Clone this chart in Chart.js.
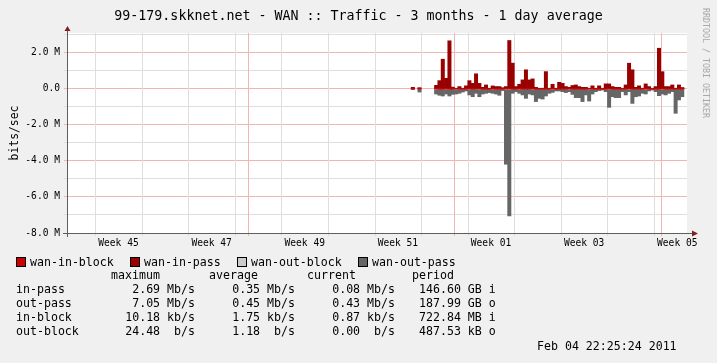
<!DOCTYPE html>
<html><head><meta charset="utf-8">
<script src="https://cdn.jsdelivr.net/npm/chart.js@4.4.0/dist/chart.umd.min.js"></script>
<style>
html,body{margin:0;padding:0;background:#f0f0f0;}
#wrap{position:relative;width:717px;height:363px;overflow:hidden;background:#f0f0f0;}
canvas{position:absolute;left:0;top:0;}
.t{position:absolute;font-family:'DejaVu Sans Mono',monospace;font-size:11.6px;line-height:14px;color:#000;white-space:pre;}
.r{text-align:right;width:120px;}
.sq{position:absolute;width:8px;height:8px;border:1px solid #000;}
#rrd{position:absolute;left:701px;top:8px;writing-mode:vertical-rl;font-family:'DejaVu Sans Mono',monospace;font-size:8.3px;line-height:10px;color:#a8a8a8;white-space:pre;}
</style></head><body>
<div id="wrap"><canvas id="c" width="717" height="363"></canvas><div id="rrd">RRDTOOL / TOBI OETIKER</div></div>
<script>
// ---------- DATA ----------
const titleText = '99-179.skknet.net - WAN :: Traffic - 3 months - 1 day average';
const yAxisTitle = 'bits/sec';
// x axis: days since Nov 1 2010 00:00
const xStartDay = 2.76, xEndDay = 95.96;
const weekGridDays = [7, 14, 21, 28, 35, 42, 49, 56, 63, 70, 77, 84, 91];
const monthGridDays = [30, 61, 92];
const weekLabelDays = [10.5, 24.5, 38.5, 52.5, 66.5, 80.5, 94.5];
const weekLabels = ['Week 45', 'Week 47', 'Week 49', 'Week 51', 'Week 01', 'Week 03', 'Week 05'];
// y axis
const yMin = -8e6, yMax = 3.11e6;
const yMajorValues = [-8e6, -6e6, -4e6, -2e6, 0, 2e6];
const yMajorLabels = ['-8.0 M', '-6.0 M', '-4.0 M', '-2.0 M', '0.0', '2.0 M'];
// half-day slots starting Dec 24 12:00 (day 54.5)
const firstSlotDay = 54.5, slotDays = 0.5;
// wan-in-pass, Mb/s
const inPassMbps = [
  0.09, null, 0.07, null, null, null, null, 0.20, 0.46, 1.65,
  0.59, 2.67, 0.10, 0.04, 0.13, 0.04, 0.17, 0.46, 0.31, 0.83,
  0.31, 0.09, 0.22, 0.04, 0.17, 0.13, 0.13, 0.07, 0.13, 2.69,
  1.43, 0.13, 0.26, 0.50, 1.06, 0.50, 0.56, 0.09, 0.04, 0.04,
  0.96, 0.04, 0.26, 0.04, 0.37, 0.31, 0.13, 0.09, 0.19, 0.22,
  0.13, 0.09, 0.09, 0.04, 0.17, 0.04, 0.17, 0.04, 0.28, 0.28,
  0.13, 0.09, 0.09, 0.04, 0.22, 1.43, 1.06, 0.09, 0.17, 0.04,
  0.28, 0.13, 0.04, 0.13, 2.26, 0.96, 0.13, 0.13, 0.22, 0.04,
  0.22, 0.08
];
// wan-out-pass, Mb/s (drawn below zero)
const outPassMbps = [
  0.01, null, 0.17, null, null, null, null, 0.28, 0.35, 0.39,
  0.28, 0.39, 0.30, 0.28, 0.24, 0.17, 0.11, 0.33, 0.43, 0.24,
  0.43, 0.28, 0.24, 0.20, 0.24, 0.28, 0.35, 0.09, 4.18, 7.05,
  0.24, 0.15, 0.24, 0.33, 0.52, 0.28, 0.33, 0.70, 0.52, 0.56,
  0.39, 0.24, 0.19, 0.11, 0.11, 0.15, 0.20, 0.15, 0.30, 0.48,
  0.48, 0.70, 0.33, 0.67, 0.28, 0.15, 0.09, 0.06, 0.15, 1.02,
  0.43, 0.48, 0.48, 0.15, 0.33, 0.15, 0.80, 0.43, 0.39, 0.24,
  0.28, 0.11, 0.06, 0.15, 0.37, 0.28, 0.33, 0.24, 0.15, 1.35,
  0.61, 0.43
];
// wan-in-block, kb/s (too small to see at this scale)
const inBlockKbps = [
  1.2, null, 0.9, null, null, null, null, 2.1, 1.8, 2.4,
  1.5, 3.0, 1.1, 0.8, 1.4, 1.0, 1.6, 2.2, 1.9, 10.18,
  1.7, 1.2, 1.5, 0.9, 1.3, 1.8, 2.0, 1.1, 3.5, 4.2,
  2.6, 1.4, 1.6, 1.9, 2.3, 1.8, 1.7, 1.2, 1.0, 1.1,
  2.4, 1.0, 1.5, 0.9, 1.6, 1.8, 1.3, 1.2, 1.4, 1.6,
  1.3, 1.1, 1.2, 0.9, 1.5, 1.0, 1.4, 0.9, 1.7, 1.9,
  1.3, 1.2, 1.1, 0.9, 1.6, 2.8, 2.5, 1.2, 1.4, 1.0,
  1.7, 1.3, 0.9, 1.2, 3.1, 2.2, 1.4, 1.3, 1.5, 1.1,
  1.4, 0.87
];
// wan-out-block, b/s (too small to see at this scale)
const outBlockBps = [
  0, null, 0, null, null, null, null, 2.4, 0, 0,
  1.2, 0, 0, 3.6, 0, 0, 0, 1.8, 0, 0,
  24.48, 0, 0, 0, 2.2, 0, 0, 0, 4.8, 6.1,
  0, 0, 1.5, 0, 0, 0, 3.0, 0, 0, 0,
  0, 0, 1.9, 0, 0, 0, 0, 2.6, 0, 0,
  0, 0, 0, 1.4, 0, 0, 0, 0, 0, 3.3,
  0, 0, 0, 0, 0, 1.7, 0, 0, 0, 0,
  2.1, 0, 0, 0, 0, 1.6, 0, 0, 0, 0,
  0, 0
];
const legendNames = ['wan-in-block', 'wan-in-pass', 'wan-out-block', 'wan-out-pass'];
const legendColors = ['#cc0000', '#990000', '#cccccc', '#666666'];
const statHeaders = ['maximum', 'average', 'current', 'period'];
const statNames = ['in-pass', 'out-pass', 'in-block', 'out-block'];
const statMax = ['2.69 Mb/s', '7.05 Mb/s', '10.18 kb/s', '24.48  b/s'];
const statAvg = ['0.35 Mb/s', '0.45 Mb/s', '1.75 kb/s', '1.18  b/s'];
const statCur = ['0.08 Mb/s', '0.43 Mb/s', '0.87 kb/s', '0.00  b/s'];
const statPeriod = ['146.60 GB i', '187.99 GB o', '722.84 MB i', '487.53 kB o'];
const stampText = 'Feb 04 22:25:24 2011';

// ---------- STYLE ----------
const MONO = "'DejaVu Sans Mono', monospace";
const MINOR = '#dedede', MAJOR = '#efb6b6';
const AXIS = '#5e5e5e', ARROW = '#801f1f';

function pts(arr, sign, mult) {
  const out = [];
  arr.forEach((v, k) => { if (v !== null) out.push({ x: firstSlotDay + slotDays * (k + 0.5), y: sign * v * mult }); });
  return out;
}
function bar(label, data, color) {
  return { label, data, backgroundColor: color, borderWidth: 0, barPercentage: 1, categoryPercentage: 1 };
}

const bgPlugin = {
  id: 'bg',
  beforeDraw(chart) {
    const { ctx, chartArea: a } = chart;
    ctx.save();
    ctx.fillStyle = '#f0f0f0';
    ctx.fillRect(0, 0, chart.width, chart.height);
    ctx.fillStyle = '#ffffff';
    ctx.fillRect(a.left, a.top, a.right - a.left, a.bottom - a.top);
    ctx.restore();
  }
};
// vertical time grid, positioned through the x scale
const xGridPlugin = {
  id: 'xgrid',
  beforeDatasetsDraw(chart) {
    const { ctx, chartArea: a } = chart;
    const sx = chart.scales.x;
    ctx.save();
    ctx.lineWidth = 1;
    const line = (d, col) => {
      const px = Math.round(sx.getPixelForValue(d)) + 0.5;
      ctx.strokeStyle = col;
      ctx.beginPath(); ctx.moveTo(px, a.top); ctx.lineTo(px, a.bottom + 3); ctx.stroke();
    };
    weekGridDays.forEach(d => line(d, MINOR));
    monthGridDays.forEach(d => line(d, MAJOR));
    ctx.restore();
  }
};
const axisPlugin = {
  id: 'axes',
  afterDraw(chart) {
    const { ctx, chartArea: a } = chart;
    ctx.save();
    ctx.strokeStyle = AXIS; ctx.lineWidth = 1;
    ctx.beginPath();
    ctx.moveTo(a.left - 4, a.bottom + 0.5); ctx.lineTo(a.right + 6, a.bottom + 0.5);
    ctx.moveTo(a.left + 0.5, a.bottom + 4); ctx.lineTo(a.left + 0.5, a.top - 2);
    ctx.stroke();
    ctx.fillStyle = ARROW;
    ctx.beginPath();
    ctx.moveTo(a.right + 11, a.bottom + 0.5); ctx.lineTo(a.right + 5, a.bottom - 2.5); ctx.lineTo(a.right + 5, a.bottom + 3.5);
    ctx.closePath(); ctx.fill();
    ctx.beginPath();
    ctx.moveTo(a.left + 0.5, a.top - 7); ctx.lineTo(a.left - 2.5, a.top - 2); ctx.lineTo(a.left + 3.5, a.top - 2);
    ctx.closePath(); ctx.fill();
    ctx.restore();
  }
};

new Chart(document.getElementById('c'), {
  type: 'bar',
  data: {
    datasets: [
      bar('wan-in-block', pts(inBlockKbps, 1, 1e3), legendColors[0]),
      bar('wan-in-pass', pts(inPassMbps, 1, 1e6), legendColors[1]),
      bar('wan-out-block', pts(outBlockBps, -1, 1), legendColors[2]),
      bar('wan-out-pass', pts(outPassMbps, -1, 1e6), legendColors[3])
    ]
  },
  options: {
    responsive: false, animation: false, devicePixelRatio: 1,
    layout: { padding: { left: 0, right: 0, top: 0, bottom: 110 } },
    plugins: {
      legend: { display: false },
      tooltip: { enabled: false },
      title: {
        display: true, text: titleText, color: '#000',
        font: { family: MONO, size: 13.3, weight: 'normal' },
        padding: { top: 9, bottom: 8.04 }
      }
    },
    scales: {
      x: {
        type: 'linear', min: xStartDay, max: xEndDay, stacked: true, offset: false,
        afterBuildTicks(s) { s.ticks = weekLabelDays.map(v => ({ value: v })); },
        afterFit(s) { s.height = 20; },
        border: { display: false },
        grid: { display: true, drawOnChartArea: false, tickLength: 3, color: 'rgba(0,0,0,0)' },
        ticks: {
          autoSkip: false, maxRotation: 0, minRotation: 0, padding: 2, color: '#000',
          font: { family: MONO, size: 9.6 },
          callback(v) { const i = weekLabelDays.indexOf(v); return i >= 0 ? weekLabels[i] : ''; }
        }
      },
      y: {
        min: yMin, max: yMax, stacked: true,
        afterBuildTicks(s) {
          const t = [];
          for (let v = yMin; v <= yMax; v += 5e5) t.push({ value: v });
          s.ticks = t;
        },
        afterFit(s) { s.width = 67; },
        border: { display: false },
        grid: {
          tickLength: 3,
          color(c) { const v = c.tick ? c.tick.value : null; return yMajorValues.includes(v) ? MAJOR : MINOR; }
        },
        ticks: {
          padding: 4, color: '#000', font: { family: MONO, size: 9.6 },
          callback(v) { const i = yMajorValues.indexOf(v); return i >= 0 ? yMajorLabels[i] : ''; }
        },
        title: {
          display: true, text: yAxisTitle, color: '#000',
          font: { family: MONO, size: 11.4 }, padding: { top: 8, bottom: 0 }
        }
      },
      yRight: {
        type: 'linear', position: 'right', min: yMin, max: yMax,
        afterFit(s) { s.width = 30; },
        grid: { display: false }, border: { display: false }, ticks: { display: false }
      }
    }
  },
  plugins: [bgPlugin, xGridPlugin, axisPlugin]
});

// ---------- legend + statistics (text) ----------
const wrap = document.getElementById('wrap');
function txt(s, left, top, right) {
  const d = document.createElement('div');
  d.className = 't' + (right ? ' r' : '');
  d.textContent = s;
  d.style.left = (right ? left - 120 : left) + 'px';
  d.style.top = top + 'px';
  wrap.appendChild(d);
}
const sqX = [16, 130, 237, 358], lblX = [30, 144, 251, 372];
legendNames.forEach((n, i) => {
  const q = document.createElement('div');
  q.className = 'sq'; q.style.left = sqX[i] + 'px'; q.style.top = '257px'; q.style.background = legendColors[i];
  wrap.appendChild(q);
  txt(n, lblX[i], 255);
});
const hdrX = [111, 209, 307, 412];
statHeaders.forEach((h, i) => txt(h, hdrX[i], 268));
statNames.forEach((n, r) => {
  const top = 282 + r * 14;
  txt(n, 16, top);
  txt(statMax[r], 195, top, true);
  txt(statAvg[r], 295, top, true);
  txt(statCur[r], 395, top, true);
  txt(statPeriod[r], 419, top);
});
txt(stampText, 537, 339);
</script>
</body></html>
